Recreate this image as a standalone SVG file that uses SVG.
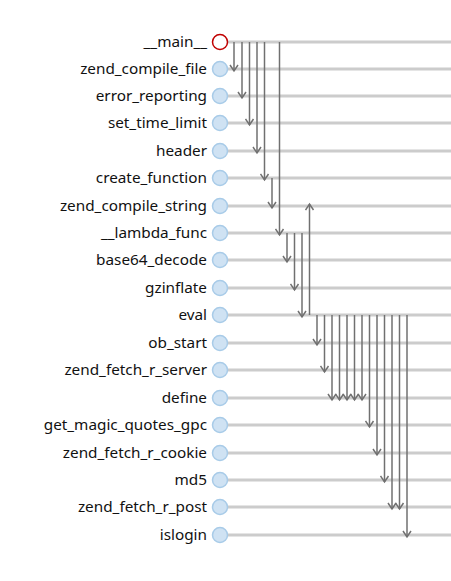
<svg xmlns="http://www.w3.org/2000/svg" width="451" height="581" viewBox="0 0 451 581">
<style>
.lbl{font-family:"Segoe UI","Noto Sans","DejaVu Sans",sans-serif;font-size:15.3px;fill:#111111;text-anchor:end;dominant-baseline:central}
.row{stroke:#cccccc;stroke-width:3}
.nd{fill:#cfe2f3;stroke:#a8cbe8;stroke-width:1.5}
.main{fill:#ffffff;stroke:#c00000;stroke-width:1.5}
.ed{stroke:#707070;stroke-width:1.5;fill:none;marker-end:url(#ah)}
</style>
<defs>
<marker id="ah" markerWidth="10" markerHeight="10" refX="8" refY="5" orient="auto" markerUnits="userSpaceOnUse" viewBox="0 0 10 10">
<path d="M2,1 L8,5 L2,9" fill="none" stroke="#707070" stroke-width="1.5"/>
</marker>
</defs>
<g id="rows">
<line class="row" x1="228" y1="42" x2="451" y2="42"/>
<line class="row" x1="228" y1="69" x2="451" y2="69"/>
<line class="row" x1="228" y1="96" x2="451" y2="96"/>
<line class="row" x1="228" y1="123" x2="451" y2="123"/>
<line class="row" x1="228" y1="151" x2="451" y2="151"/>
<line class="row" x1="228" y1="178" x2="451" y2="178"/>
<line class="row" x1="228" y1="206" x2="451" y2="206"/>
<line class="row" x1="228" y1="233" x2="451" y2="233"/>
<line class="row" x1="228" y1="260" x2="451" y2="260"/>
<line class="row" x1="228" y1="288" x2="451" y2="288"/>
<line class="row" x1="228" y1="315" x2="451" y2="315"/>
<line class="row" x1="228" y1="343" x2="451" y2="343"/>
<line class="row" x1="228" y1="370" x2="451" y2="370"/>
<line class="row" x1="228" y1="398" x2="451" y2="398"/>
<line class="row" x1="228" y1="425" x2="451" y2="425"/>
<line class="row" x1="228" y1="453" x2="451" y2="453"/>
<line class="row" x1="228" y1="480" x2="451" y2="480"/>
<line class="row" x1="228" y1="507" x2="451" y2="507"/>
<line class="row" x1="228" y1="535" x2="451" y2="535"/>
</g>
<g id="connectors">
<line class="ed" x1="234" y1="42" x2="234" y2="71"/>
<line class="ed" x1="242" y1="42" x2="242" y2="98"/>
<line class="ed" x1="249.5" y1="42" x2="249.5" y2="125"/>
<line class="ed" x1="257" y1="42" x2="257" y2="153"/>
<line class="ed" x1="264.5" y1="42" x2="264.5" y2="180"/>
<line class="ed" x1="279.5" y1="42" x2="279.5" y2="235"/>
<line class="ed" x1="272" y1="178" x2="272" y2="208"/>
<line class="ed" x1="287" y1="233" x2="287" y2="262"/>
<line class="ed" x1="294.5" y1="233" x2="294.5" y2="290"/>
<line class="ed" x1="302" y1="233" x2="302" y2="317"/>
<line class="ed" x1="309.5" y1="315" x2="309.5" y2="204"/>
<line class="ed" x1="317" y1="315" x2="317" y2="345"/>
<line class="ed" x1="324.5" y1="315" x2="324.5" y2="372"/>
<line class="ed" x1="332" y1="315" x2="332" y2="400"/>
<line class="ed" x1="339.5" y1="315" x2="339.5" y2="400"/>
<line class="ed" x1="347" y1="315" x2="347" y2="400"/>
<line class="ed" x1="354.5" y1="315" x2="354.5" y2="400"/>
<line class="ed" x1="362" y1="315" x2="362" y2="400"/>
<line class="ed" x1="369.5" y1="315" x2="369.5" y2="427"/>
<line class="ed" x1="377" y1="315" x2="377" y2="455"/>
<line class="ed" x1="384.5" y1="315" x2="384.5" y2="482"/>
<line class="ed" x1="392" y1="315" x2="392" y2="509"/>
<line class="ed" x1="399.5" y1="315" x2="399.5" y2="509"/>
<line class="ed" x1="407" y1="315" x2="407" y2="537"/>
</g>
<g id="n0"><circle class="main" cx="220" cy="42" r="7.5"/><text class="lbl" x="207" y="41">__main__</text></g>
<g id="n1"><circle class="nd" cx="220" cy="69" r="7.5"/><text class="lbl" x="207" y="68">zend_compile_file</text></g>
<g id="n2"><circle class="nd" cx="220" cy="96" r="7.5"/><text class="lbl" x="207" y="95">error_reporting</text></g>
<g id="n3"><circle class="nd" cx="220" cy="123" r="7.5"/><text class="lbl" x="207" y="122">set_time_limit</text></g>
<g id="n4"><circle class="nd" cx="220" cy="151" r="7.5"/><text class="lbl" x="207" y="150">header</text></g>
<g id="n5"><circle class="nd" cx="220" cy="178" r="7.5"/><text class="lbl" x="207" y="177">create_function</text></g>
<g id="n6"><circle class="nd" cx="220" cy="206" r="7.5"/><text class="lbl" x="207" y="205">zend_compile_string</text></g>
<g id="n7"><circle class="nd" cx="220" cy="233" r="7.5"/><text class="lbl" x="207" y="232">__lambda_func</text></g>
<g id="n8"><circle class="nd" cx="220" cy="260" r="7.5"/><text class="lbl" x="207" y="259">base64_decode</text></g>
<g id="n9"><circle class="nd" cx="220" cy="288" r="7.5"/><text class="lbl" x="207" y="287">gzinflate</text></g>
<g id="n10"><circle class="nd" cx="220" cy="315" r="7.5"/><text class="lbl" x="207" y="314">eval</text></g>
<g id="n11"><circle class="nd" cx="220" cy="343" r="7.5"/><text class="lbl" x="207" y="342">ob_start</text></g>
<g id="n12"><circle class="nd" cx="220" cy="370" r="7.5"/><text class="lbl" x="207" y="369">zend_fetch_r_server</text></g>
<g id="n13"><circle class="nd" cx="220" cy="398" r="7.5"/><text class="lbl" x="207" y="397">define</text></g>
<g id="n14"><circle class="nd" cx="220" cy="425" r="7.5"/><text class="lbl" x="207" y="424">get_magic_quotes_gpc</text></g>
<g id="n15"><circle class="nd" cx="220" cy="453" r="7.5"/><text class="lbl" x="207" y="452">zend_fetch_r_cookie</text></g>
<g id="n16"><circle class="nd" cx="220" cy="480" r="7.5"/><text class="lbl" x="207" y="479">md5</text></g>
<g id="n17"><circle class="nd" cx="220" cy="507" r="7.5"/><text class="lbl" x="207" y="506">zend_fetch_r_post</text></g>
<g id="n18"><circle class="nd" cx="220" cy="535" r="7.5"/><text class="lbl" x="207" y="534">islogin</text></g>
</svg>
